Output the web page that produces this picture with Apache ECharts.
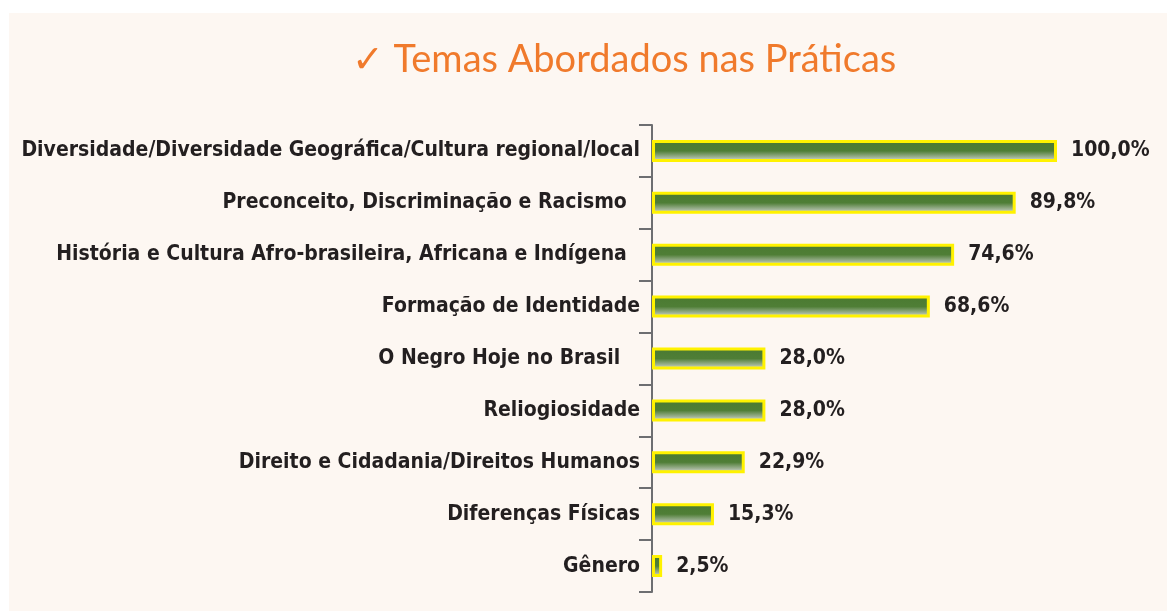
<!DOCTYPE html>
<html>
<head>
<meta charset="utf-8">
<script src="https://cdn.jsdelivr.net/npm/echarts@6/dist/echarts.min.js"></script>
<style>
html,body{margin:0;padding:0;background:#ffffff;}
#chart{width:1167px;height:611px;}
</style>
</head>
<body>
<div id="chart"></div>
<script>
const titleText = '✓ Temas Abordados nas Práticas';
const categories = [
  'Diversidade/Diversidade Geográfica/Cultura regional/local',
  'Preconceito, Discriminação e Racismo  ',
  'História e Cultura Afro-brasileira, Africana e Indígena  ',
  'Formação de Identidade',
  'O Negro Hoje no Brasil   ',
  'Reliogiosidade',
  'Direito e Cidadania/Direitos Humanos',
  'Diferenças Físicas',
  'Gênero'
];
const values = [100.0, 89.8, 74.6, 68.6, 28.0, 28.0, 22.9, 15.3, 2.5];

const chart = echarts.init(document.getElementById('chart'), null, {renderer: 'canvas'});
const labelFont = '"Liberation Sans Narrow", "DejaVu Sans Condensed", "Arial Narrow", sans-serif';

chart.setOption({
  backgroundColor: '#ffffff',
  animation: false,
  graphic: [{
    type: 'rect',
    z: -10,
    shape: {x: 9, y: 13, width: 1158, height: 598},
    style: {fill: '#fdf7f2'}
  }],
  title: {
    text: titleText,
    left: 619,
    textAlign: 'center',
    top: 36,
    textStyle: {
      color: '#f07a2c',
      fontSize: 38,
      fontWeight: 'normal',
      fontFamily: 'Lato, "Open Sans", sans-serif'
    }
  },
  grid: {left: 652, right: 110, top: 125, bottom: 19, containLabel: false, outerBoundsMode: 'none'},
  xAxis: {
    type: 'value',
    min: 0,
    max: 100,
    show: false
  },
  yAxis: {
    type: 'category',
    data: categories,
    inverse: true,
    axisLine: {show: true, lineStyle: {color: '#6d6e71', width: 2}},
    axisTick: {show: true, length: 13, lineStyle: {color: '#6d6e71', width: 2}},
    axisLabel: {
      margin: 12,
      color: '#231f20',
      fontSize: 21,
      fontWeight: 'bold',
      fontFamily: labelFont
    },
    splitLine: {show: false}
  },
  series: [{
    type: 'bar',
    data: values,
    barWidth: 22,
    itemStyle: {
      borderColor: '#fff200',
      borderWidth: 3,
      color: new echarts.graphic.LinearGradient(0, 0, 0, 1, [
        {offset: 0, color: '#4a7a31'},
        {offset: 0.5, color: '#4f7e36'},
        {offset: 0.8, color: '#a2b598'},
        {offset: 1, color: '#efeee8'}
      ])
    },
    label: {
      show: true,
      position: 'right',
      distance: 14,
      color: '#231f20',
      fontSize: 21,
      fontWeight: 'bold',
      fontFamily: labelFont,
      formatter: function (p) { return p.value.toFixed(1).replace('.', ',') + '%'; }
    }
  }]
});
</script>
</body>
</html>
